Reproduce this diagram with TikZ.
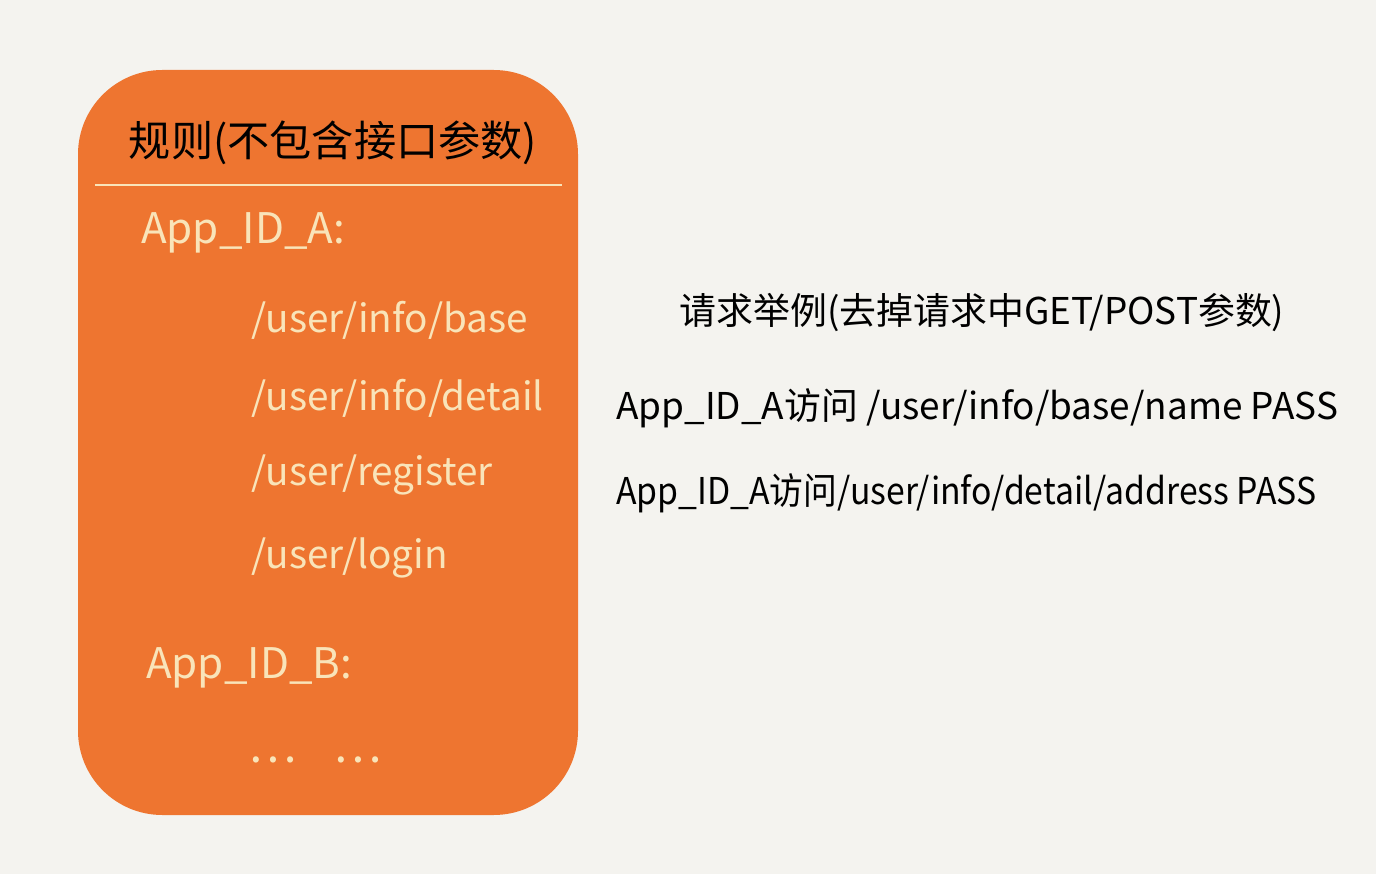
\documentclass[tikz,border=0pt]{standalone}
\usepackage{fontspec}
\setmainfont{Noto Sans CJK SC}
\definecolor{paper}{HTML}{F4F3EF}
\definecolor{rulebox}{HTML}{EE7530}
\definecolor{cream}{HTML}{F9E4B9}
\tikzset{
  rtext/.style={anchor=west,text=cream,font=\fontsize{24}{28}\selectfont},
  ptext/.style={anchor=west,text=cream,font=\fontsize{22}{26}\selectfont},
  qtext/.style={anchor=west,text=black,font=\fontsize{21}{25}\selectfont}
}
\begin{document}
\begin{tikzpicture}[x=0.02cm,y=-0.02cm]
\fill[paper] (0,0) rectangle (1376,874);
\useasboundingbox (0,0) rectangle (1376,874);
% rule card
\fill[rulebox,rounded corners=48] (78,70) rectangle (578,815);
\node[text=black,font=\fontsize{24}{28}\selectfont] (title) at (333,143) {规则(不包含接口参数)};
\draw[cream,line width=1.6pt] (95,185) -- (562,185);
\node[rtext] (appa) at (135,233) {App\_ID\_A:};
\foreach \p/\y [count=\i] in {{/user/info/base}/320,{/user/info/detail}/398,{/user/register}/475,{/user/login}/558}
  \node[ptext] (path\i) at (245,\y) {\p};
\node[rtext] (appb) at (140,668) {App\_ID\_B:};
\node[ptext,font=\fontsize{26}{30}\selectfont] (more) at (242,760) {\dots\hspace{0.8em}\dots};
% requests
\node[text=black,font=\fontsize{21}{25}\selectfont] (qhead) at (982,313) {请求举例(去掉请求中GET/POST参数)};
\node[qtext] (q1) at (610,408) {App\_ID\_A访问 /user/info/base/name PASS};
\node[qtext] (q2) at (610,493) {\addfontfeature{FakeStretch=0.915}App\_ID\_A访问/user/info/detail/address PASS};
\end{tikzpicture}
\end{document}
